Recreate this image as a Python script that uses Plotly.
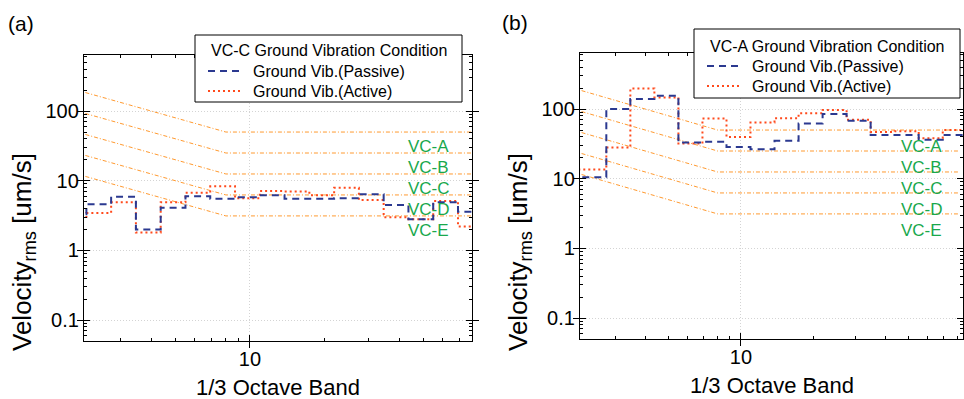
import numpy as np
import plotly.graph_objects as go

# ---------------- data ----------------
band_centers = [2, 2.5, 3.15, 4, 5, 6.3, 8, 10, 12.5, 16, 20, 25, 31.5, 40, 50, 63, 80]
band_edges = [1.738, 2.188, 2.754, 3.467, 4.365, 5.495, 6.918, 8.710, 10.96,
              13.80, 17.38, 21.88, 27.54, 34.67, 43.65, 54.95, 69.18, 87.10]

# (a) VC-C ground
passive_a = [3.3, 4.6, 5.9, 2.0, 4.1, 6.0, 5.5, 5.8, 6.2, 5.5, 5.5, 5.6, 6.4, 4.5, 2.8, 4.9, 3.6]
active_a = [2.9, 3.45, 4.9, 1.8, 4.9, 6.7, 8.3, 5.6, 7.1, 7.0, 6.2, 7.9, 5.3, 3.0, 2.8, 5.1, 2.2]
# (b) VC-A ground
passive_b = [10.5, 10.5, 100, 140, 155, 33, 34, 28.5, 26.5, 35, 62, 85, 68, 42.6, 42.6, 36.2, 42.6]
active_b = [13.6, 13.6, 28, 197, 147, 32, 73, 39.6, 64, 74, 87, 97, 70, 47, 48, 38.2, 50]

vc_names = ["VC-A", "VC-B", "VC-C", "VC-D", "VC-E"]
vc_freq = [2, 8, 80]
vc_values = [
    [200, 50, 50],
    [100, 25, 25],
    [50, 12.5, 12.5],
    [25, 6.25, 6.25],
    [12.5, 3.125, 3.125],
]

legend_titles = ["VC-C Ground Vibration Condition", "VC-A Ground Vibration Condition"]
series_names = ["Ground Vib.(Passive)", "Ground Vib.(Active)"]
panel_labels = ["(a)", "(b)"]

x_minor = [3, 4, 5, 6, 7, 8, 9, 20, 30, 40, 50, 60, 70, 80]
y_minor = [0.06, 0.07, 0.08, 0.09, 0.2, 0.3, 0.4, 0.5, 0.6, 0.7, 0.8, 0.9,
           2, 3, 4, 5, 6, 7, 8, 9, 20, 30, 40, 50, 60, 70, 80, 90,
           200, 300, 400, 500, 600]

# ---------------- styling ----------------
FONT = "Liberation Sans, Arial, Helvetica, sans-serif"
W, H = 964, 399
BLUE = "#2b3990"
RED = "#ff4a1c"
ORANGE = "#ff9a30"
GREEN = "#19a84c"
BLUE_DASH = "7px,5px"
RED_DASH = "2px,3px"

fig = go.Figure()

panels = [
    dict(xa="x", ya="y", passive=passive_a, active=active_a),
    dict(xa="x2", ya="y2", passive=passive_b, active=active_b),
]

for p in panels:
    for vals in vc_values:
        fig.add_trace(go.Scatter(
            x=vc_freq, y=vals, mode="lines", xaxis=p["xa"], yaxis=p["ya"],
            line=dict(color=ORANGE, width=1, dash="4px,2px,1px,2px"),
            showlegend=False, hoverinfo="skip"))
    fig.add_trace(go.Scatter(
        x=band_edges, y=p["active"] + [p["active"][-1]], mode="lines",
        line_shape="hv", xaxis=p["xa"], yaxis=p["ya"], name=series_names[1],
        line=dict(color=RED, width=2, dash=RED_DASH), showlegend=False))
    fig.add_trace(go.Scatter(
        x=band_edges, y=p["passive"] + [p["passive"][-1]], mode="lines",
        line_shape="hv", xaxis=p["xa"], yaxis=p["ya"], name=series_names[0],
        line=dict(color=BLUE, width=2, dash=BLUE_DASH), showlegend=False))

# empty traces so the minor-tick overlay axes get drawn
for xa, ya in [("x3", "y"), ("x4", "y2"), ("x", "y3"), ("x2", "y4")]:
    fig.add_trace(go.Scatter(x=[], y=[], xaxis=xa, yaxis=ya, showlegend=False,
                             hoverinfo="skip"))


def axis_common():
    return dict(
        type="log", showline=True, linecolor="black", linewidth=1.3,
        mirror="allticks", ticks="inside", ticklen=6, tickwidth=1,
        tickcolor="black", showgrid=True, gridcolor="#d4d4d4",
        griddash="1px,2px", gridwidth=1, zeroline=False,
        tickmode="linear", tick0=0, dtick=1,
        tickfont=dict(family=FONT, size=20, color="black"),
    )


def minor_axis(rng, vals, overlay, anchor, side):
    return dict(
        type="log", range=rng, overlaying=overlay, anchor=anchor, side=side,
        tickmode="array", tickvals=vals, showticklabels=False,
        ticks="inside", ticklen=3, tickwidth=1, tickcolor="black",
        mirror="ticks", showline=False, showgrid=False, zeroline=False,
    )


# plot-area pixel boxes
boxes = [
    dict(x0=84, x1=472, y0=55, y1=341, xr=(2.14, 78.8)),
    dict(x0=580, x1=963, y0=53, y1=339, xr=(2.14, 84.0)),
]
YR = [-1.301, 2.805]

layout_axes = {}
for i, b in enumerate(boxes):
    sfx = "" if i == 0 else "2"
    xr = [np.log10(b["xr"][0]), np.log10(b["xr"][1])]
    xa = axis_common()
    xa.update(domain=[b["x0"] / W, b["x1"] / W], range=xr, anchor="y" + sfx)
    ya = axis_common()
    ya.update(domain=[1 - b["y1"] / H, 1 - b["y0"] / H], range=YR,
              anchor="x" + sfx)
    layout_axes["xaxis" + sfx] = xa
    layout_axes["yaxis" + sfx] = ya
    msfx = str(3 + i)
    layout_axes["xaxis" + msfx] = minor_axis(xr, x_minor, "x" + sfx, "y" + sfx, "bottom")
    layout_axes["yaxis" + msfx] = minor_axis(YR, y_minor, "y" + sfx, "x" + sfx, "left")

annotations = []
shapes = []
# VC labels
vc_label_x = [42.6, 45.7]
vc_label_off = [0.205, 0.235]
for i in range(2):
    sfx = "" if i == 0 else "2"
    for name, vals in zip(vc_names, vc_values):
        annotations.append(dict(
            x=np.log10(vc_label_x[i]), y=np.log10(vals[-1]) - vc_label_off[i],
            xref="x" + sfx, yref="y" + sfx, text=name, showarrow=False,
            xanchor="left", yanchor="middle",
            font=dict(family=FONT, size=17, color=GREEN)))
    b = boxes[i]
    # x title
    annotations.append(dict(
        x=(b["x0"] + b["x1"]) / 2 / W, y=1 - (b["y1"] + 46) / H,
        xref="paper", yref="paper", text="1/3 Octave Band", showarrow=False,
        xanchor="center", yanchor="middle",
        font=dict(family=FONT, size=22, color="black")))
    # y title
    annotations.append(dict(
        x=(b["x0"] - 61) / W, y=1 - 252 / H, xref="paper", yref="paper",
        text="Velocity<sub>rms</sub> [um/s]", showarrow=False, textangle=-90,
        xanchor="center", yanchor="middle",
        font=dict(family=FONT, size=26, color="black")))
# panel labels
for lab, (px, py) in zip(panel_labels, [(21, 23), (515, 22)]):
    annotations.append(dict(
        x=px / W, y=1 - py / H, xref="paper", yref="paper", text=lab,
        showarrow=False, xanchor="center", yanchor="middle",
        font=dict(family=FONT, size=21, color="black")))

# legends (box, title, two entries) in pixel positions
legend_boxes = [
    dict(x0=195, x1=462, y0=35, y1=102, title_x=209, title_y=50,
         line_x0=208, line_x1=243, text_x=251, rows=[71, 91]),
    dict(x0=694, x1=960, y0=29, y1=98, title_x=708, title_y=46,
         line_x0=707, line_x1=742, text_x=750, rows=[66, 86]),
]
for i, lb in enumerate(legend_boxes):
    shapes.append(dict(type="rect", xref="paper", yref="paper",
                       x0=lb["x0"] / W, x1=lb["x1"] / W,
                       y0=1 - lb["y1"] / H, y1=1 - lb["y0"] / H,
                       line=dict(color="black", width=1), fillcolor="white",
                       layer="above"))
    annotations.append(dict(
        x=lb["title_x"] / W, y=1 - lb["title_y"] / H, xref="paper", yref="paper",
        text=legend_titles[i], showarrow=False, xanchor="left", yanchor="middle",
        font=dict(family=FONT, size=16, color="black")))
    for name, color, dash, ry in zip(series_names, [BLUE, RED],
                                     [BLUE_DASH, RED_DASH], lb["rows"]):
        shapes.append(dict(type="line", xref="paper", yref="paper",
                           x0=lb["line_x0"] / W, x1=lb["line_x1"] / W,
                           y0=1 - ry / H, y1=1 - ry / H,
                           line=dict(color=color, width=2, dash=dash),
                           layer="above"))
        annotations.append(dict(
            x=lb["text_x"] / W, y=1 - ry / H, xref="paper", yref="paper",
            text=name, showarrow=False, xanchor="left", yanchor="middle",
            font=dict(family=FONT, size=16, color="black")))

fig.update_layout(
    width=W, height=H, margin=dict(l=0, r=0, t=0, b=0),
    paper_bgcolor="white", plot_bgcolor="white",
    font=dict(family=FONT, color="black"), showlegend=False,
    annotations=annotations, shapes=shapes, **layout_axes,
)

fig.write_html("out.html")
